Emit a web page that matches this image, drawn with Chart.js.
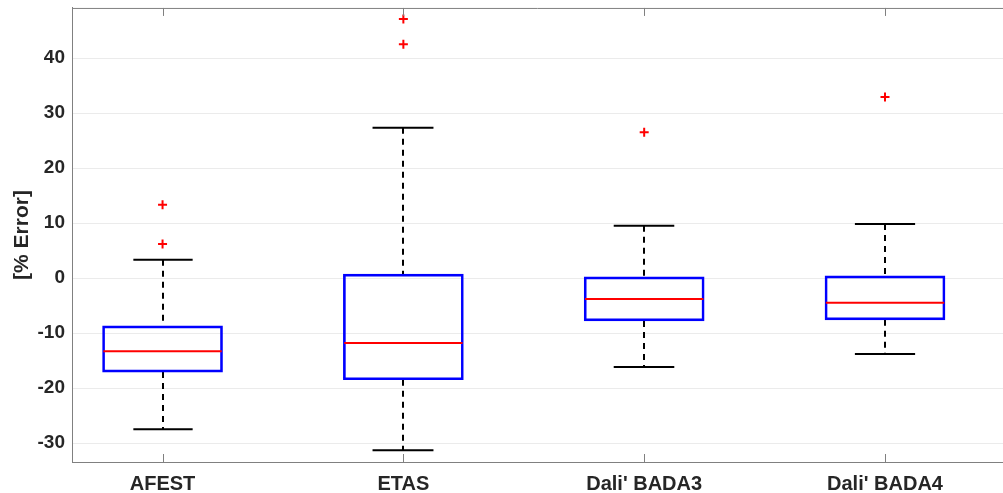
<!DOCTYPE html>
<html>
<head>
<meta charset="utf-8">
<script src="https://cdn.jsdelivr.net/npm/chart.js@4/dist/chart.umd.min.js"></script>
<style>
	html, body { margin: 0; padding: 0; background: #fff; }
	#wrap { width: 1003px; height: 493px; }
</style>
</head>
<body>
<div id="wrap"><canvas id="chart"></canvas></div>
<script>
// box plot data
const categories = ['AFEST', 'ETAS', "Dali' BADA3", "Dali' BADA4"];
const whiskerLow  = [-27.5, -31.3, -16.2, -13.8];
const q1          = [-17.1, -18.5, -7.8, -7.6];
const medians     = [-13.3, -11.8, -3.8, -4.5];
const q3          = [-8.7, 0.7, 0.2, 0.4];
const whiskerHigh = [3.3, 27.3, 9.5, 9.8];
const outliers    = [[13.3, 6.2], [47.1, 42.5], [26.5], [32.9]];
const yTicks      = [-30, -20, -10, 0, 10, 20, 30, 40];

const boxData = categories.map((c, i) => ({x: i + 1, y: [q1[i], q3[i]]}));
const outlierData = [];
outliers.forEach((list, i) => list.forEach(v => outlierData.push({x: i + 1, y: v})));

//draws whiskers, caps, medians, frame and inward ticks
const boxExtras = {
	id: 'boxExtras',
	beforeDatasetsDraw(chart) {
		const {ctx, scales: {x, y}} = chart;
		ctx.save();
		ctx.strokeStyle = '#000';
		ctx.lineWidth = 2;
		categories.forEach((c, i) => {
			const px = Math.round(x.getPixelForValue(i + 1));
			ctx.setLineDash([6, 5]);
			ctx.beginPath();
			ctx.moveTo(px, y.getPixelForValue(whiskerHigh[i]));
			ctx.lineTo(px, y.getPixelForValue(q3[i]));
			ctx.moveTo(px, y.getPixelForValue(q1[i]));
			ctx.lineTo(px, y.getPixelForValue(whiskerLow[i]));
			ctx.stroke();
			ctx.setLineDash([]);
			const half = x.getPixelForValue(i + 1.125) - px;
			ctx.beginPath();
			ctx.moveTo(px - half, y.getPixelForValue(whiskerHigh[i]));
			ctx.lineTo(px + half, y.getPixelForValue(whiskerHigh[i]));
			ctx.moveTo(px - half, y.getPixelForValue(whiskerLow[i]));
			ctx.lineTo(px + half, y.getPixelForValue(whiskerLow[i]));
			ctx.stroke();
		});
		ctx.restore();
	},
	afterDatasetsDraw(chart) {
		const {ctx, chartArea: {left, right, top, bottom}, scales: {x, y}} = chart;
		ctx.save();
		ctx.strokeStyle = '#ff0000';
		ctx.lineWidth = 2;
		categories.forEach((c, i) => {
			const px = x.getPixelForValue(i + 1);
			const half = x.getPixelForValue(i + 1.25) - px;
			const py = y.getPixelForValue(medians[i]);
			ctx.beginPath();
			ctx.moveTo(px - half + 1, py);
			ctx.lineTo(px + half - 1, py);
			ctx.stroke();
		});
		// frame top line and inward category ticks
		ctx.strokeStyle = '#808080';
		ctx.lineWidth = 1;
		ctx.beginPath();
		ctx.moveTo(left, top + 0.5);
		ctx.lineTo(right, top + 0.5);
		categories.forEach((c, i) => {
			const px = Math.round(x.getPixelForValue(i + 1)) + 0.5;
			ctx.moveTo(px, top);
			ctx.lineTo(px, top + 8);
			ctx.moveTo(px, bottom);
			ctx.lineTo(px, bottom - 8);
		});
		ctx.stroke();
		ctx.restore();
	}
};

const config = {
	type: 'bar',
	data: {
		datasets: [
			{
				type: 'bar',
				data: boxData,
				borderColor: '#0000ff',
				backgroundColor: 'rgba(255,255,255,0)',
				borderWidth: 2,
				borderSkipped: false,
				barThickness: 120,
				order: 2
			},
			{
				type: 'scatter',
				data: outlierData,
				pointStyle: 'cross',
				pointRadius: 4.5,
				borderColor: '#ff0000',
				borderWidth: 2,
				order: 1
			}
		]
	},
	options: {
		responsive: true,
		maintainAspectRatio: false,
		animation: false,
		layout: {
			autoPadding: false,
			padding: {top: 0, right: 0, left: 0, bottom: 0}
		},
		plugins: {
			legend: {display: false},
			tooltip: {enabled: false}
		},
		scales: {
			x: {
				type: 'linear',
				offset: false,
				min: 0.624,
				max: 4.49,
				afterBuildTicks: axis => { axis.ticks = categories.map((c, i) => ({value: i + 1})); },
				afterFit: axis => { axis.height = 31; },
				grid: {display: false, drawTicks: false, offset: false},
				border: {display: true, color: '#808080', width: 1},
				ticks: {
					autoSkip: false,
					maxRotation: 0,
					padding: 12,
					color: '#262626',
					font: {family: 'Liberation Sans', size: 20, weight: 'bold', lineHeight: 1},
					callback: value => categories[value - 1]
				}
			},
			y: {
				min: -33.45,
				max: 49.1,
				afterBuildTicks: axis => { axis.ticks = yTicks.map(v => ({value: v})); },
				afterFit: axis => { axis.width = 72; },
				grid: {color: '#ebebeb', lineWidth: 1, drawTicks: false},
				border: {display: true, color: '#808080', width: 1},
				title: {
					display: true,
					text: '[% Error]',
					color: '#262626',
					padding: {top: 10, bottom: 4},
					font: {family: 'Liberation Sans', size: 21, weight: 'bold'}
				},
				ticks: {
					padding: 7,
					color: '#262626',
					font: {family: 'Liberation Sans', size: 19, weight: 'bold', lineHeight: 0.1}
				}
			}
		}
	},
	plugins: [boxExtras]
};

new Chart(document.getElementById('chart'), config);
</script>
</body>
</html>
